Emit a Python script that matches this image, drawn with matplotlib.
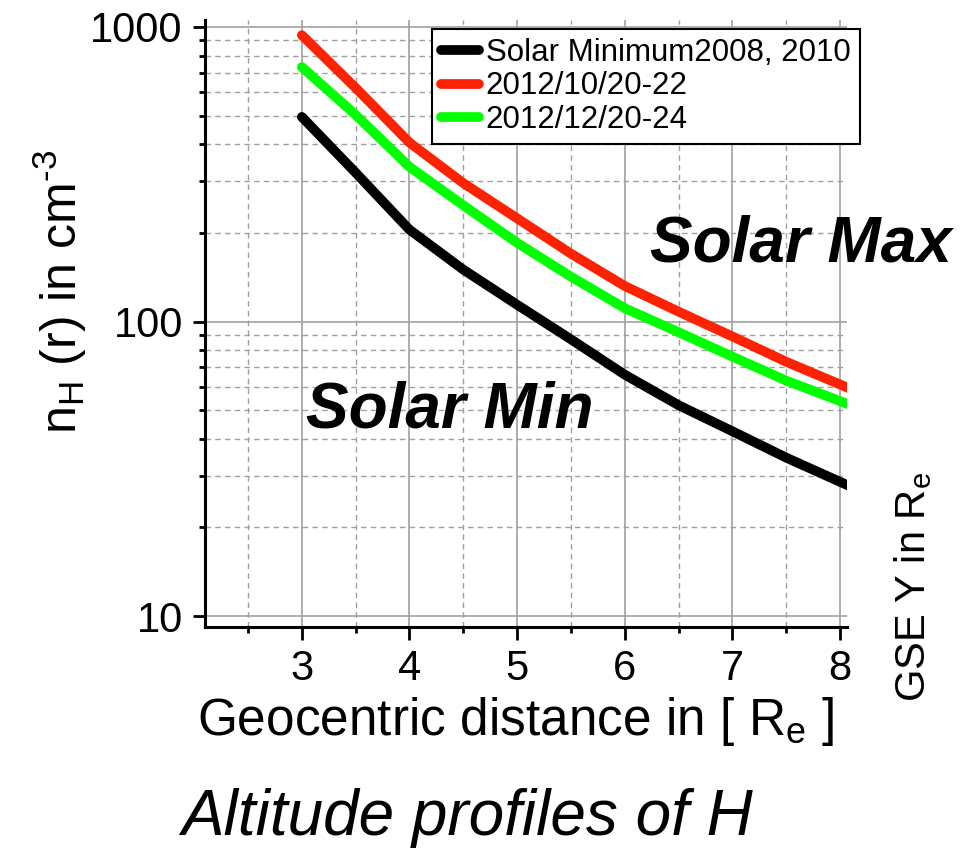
import numpy as np
import matplotlib
matplotlib.use('Agg')
import matplotlib.pyplot as plt
from matplotlib import font_manager
from matplotlib.ticker import LogLocator, FixedLocator, NullFormatter, FuncFormatter

plt.rcParams['font.family'] = ['Liberation Sans', 'DejaVu Sans']
plt.rcParams['mathtext.fontset'] = 'custom'
plt.rcParams['mathtext.rm'] = 'Liberation Sans'
plt.rcParams['mathtext.it'] = 'Liberation Sans:italic'

# values (log scale)
r = [3.0, 3.5, 4.0, 4.5, 5.0, 5.5, 6.0, 6.5, 7.0, 7.5, 8.1]
n_min = [495, 320, 205, 150, 114, 87, 66, 52, 42.4, 34.5, 27.5]
n_oct = [938, 621, 405, 295, 224, 170, 132, 108, 89, 73, 59]
n_dec = [731, 503, 335, 248, 185, 142, 111, 92, 76, 63, 52]

labels = ['Solar Minimum2008, 2010', '2012/10/20-22', '2012/12/20-24']
colors = ['black', '#ff2200', '#00ff00']

# the caption uses a condensed italic face if one is installed
names = {f.name for f in font_manager.fontManager.ttflist}
if 'Liberation Sans Narrow' in names:
    cap_font, cap_size = 'Liberation Sans Narrow', 58
else:
    cap_font, cap_size = 'Liberation Sans', 46

fig = plt.figure(figsize=(9.6, 8.5), dpi=100)
ax = fig.add_axes([205/960, 1-627/850, (847-205)/960, (627-20)/850])

for y, c, lab in zip([n_min, n_oct, n_dec], colors, labels):
    ax.plot(r, y, color=c, lw=7, solid_capstyle='round', label=lab)

ax.set_yscale('log')
ax.set_xlim(2.1, 8.065)
ax.set_ylim(9.18, 1056)
ax.xaxis.set_major_locator(FixedLocator([3, 4, 5, 6, 7, 8]))
ax.xaxis.set_minor_locator(FixedLocator([2.5, 3.5, 4.5, 5.5, 6.5, 7.5]))
ax.yaxis.set_major_locator(LogLocator(base=10, numticks=10))
ax.yaxis.set_minor_locator(LogLocator(base=10, subs=np.arange(2, 10), numticks=20))
ax.yaxis.set_minor_formatter(NullFormatter())
ax.yaxis.set_major_formatter(FuncFormatter(lambda v, p: '%d' % v))

ax.grid(True, which='major', color='#a0a0a0', lw=1.2, ls='-')
ax.grid(True, which='minor', color='#a0a0a0', lw=1.0, ls=(0, (4, 3)))
ax.set_axisbelow(True)

for s in ['top', 'right']:
    ax.spines[s].set_visible(False)
for s in ['left', 'bottom']:
    ax.spines[s].set_linewidth(2.2)
ax.tick_params(which='major', direction='out', length=9, width=2, labelsize=30, pad=7)
ax.tick_params(which='minor', direction='out', length=4.5, width=2)

fig.text(60/960, 1-292/850, r'n$_\mathregular{H}$ (r) in cm$^\text{-3}$',
         rotation=90, ha='center', va='center', fontsize=36)
fig.text(516/960, 1-722/850, r'Geocentric distance in [ R$_\mathregular{e}$ ]',
         ha='center', va='center', fontsize=37)
fig.text(913/960, 1-587/850, r'GSE Y in R$_\mathregular{e}$',
         rotation=90, ha='center', va='center', fontsize=30)
fig.text(467/960, 1-818/850, 'Altitude profiles of H', ha='center', va='center',
         fontsize=cap_size, style='italic', family=cap_font)

fig.text(801/960, 1-245/850, 'Solar Max', ha='center', va='center',
         fontsize=46, fontweight='bold', style='italic')
fig.text(450/960, 1-410/850, 'Solar Min', ha='center', va='center',
         fontsize=46, fontweight='bold', style='italic')

leg = ax.legend(loc='upper left', bbox_to_anchor=(432/960, 1-29/850),
                bbox_transform=fig.transFigure, borderaxespad=0, fontsize=22.5,
                fancybox=False, framealpha=1, edgecolor='black',
                handlelength=1.2, handletextpad=0.22, labelspacing=0.1, borderpad=0.3)
leg.get_frame().set_linewidth(1.5)

fig.savefig('out.png', dpi=100)
